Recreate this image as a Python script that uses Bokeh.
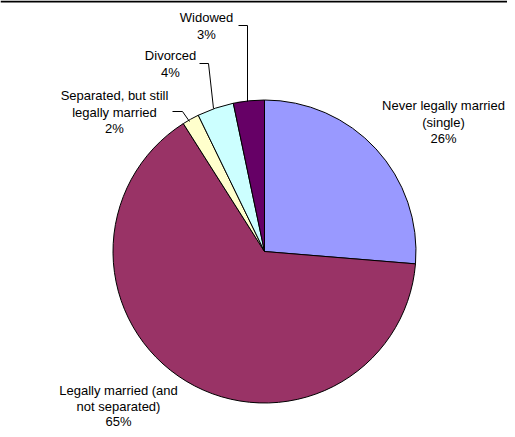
import math
from bokeh.plotting import figure
from bokeh.models import Range1d, ColumnDataSource
from bokeh.core.properties import value
from bokeh.embed import file_html
from bokeh.resources import INLINE

# ---- data (clockwise from 12 o'clock) ----
categories = ["Never legally married (single)", "Legally married (and not separated)",
              "Separated, but still legally married", "Divorced", "Widowed"]
shares = [26.3, 64.7, 1.8, 3.9, 3.3]
pct_labels = ["26%", "65%", "2%", "4%", "3%"]
label_lines = [["Never legally married", "(single)"],
               ["Legally married (and", "not separated)"],
               ["Separated, but still", "legally married"],
               ["Divorced"],
               ["Widowed"]]
colors = ["#9999FF", "#993366", "#FFFFCC", "#CCFFFF", "#660066"]

# ---- layout (picture pixel coordinates) ----
W, H = 507, 429
def Y(py):
    return H - py

cx, cy, r = 264, 251, 151.5
label_anchor = [(443, 105), (118, 390), (114, 95), (170, 55), (206, 17)]
line_step = [16.5, 15.5, 16.5, 16.5, 16.5]
leaders = [None, None,
           [(172, 111), (182, 111), (189, 121)],
           [(199, 63), (208, 63), (213, 108)],
           [(238, 25), (247, 25), (247, 101)]]

p = figure(width=W, height=H, output_backend="svg", toolbar_location=None,
           x_range=Range1d(0, W), y_range=Range1d(0, H), min_border=0)
p.axis.visible = False
p.grid.visible = False
p.outline_line_color = None
p.background_fill_color = "white"

total = sum(shares)
starts, ends = [], []
cum = 0.0
for s in shares:
    a0 = math.pi / 2 - 2 * math.pi * (cum + s) / total
    a1 = math.pi / 2 - 2 * math.pi * cum / total
    starts.append(a0)
    ends.append(a1)
    cum += s

src = ColumnDataSource(dict(x=[cx] * len(shares), y=[Y(cy)] * len(shares),
                            start=starts, end=ends, color=colors, cat=categories))
p.wedge(x="x", y="y", radius=r, start_angle="start", end_angle="end",
        direction="anticlock", fill_color="color", line_color="black",
        line_width=1, source=src)

# labels
tx, ty, tt = [], [], []
for (ax, ay), lines, pct, step in zip(label_anchor, label_lines, pct_labels, line_step):
    for i, t in enumerate(lines + [pct]):
        tx.append(ax)
        ty.append(Y(ay + i * step))
        tt.append(t)
p.text(x=tx, y=ty, text=tt, text_align="center", text_baseline="middle",
       text_font=value("Liberation Sans"), text_font_size="13px", text_color="black")

# leader lines
xs, ys = [], []
for ld in leaders:
    if ld:
        xs.append([pt[0] for pt in ld])
        ys.append([Y(pt[1]) for pt in ld])
p.multi_line(xs=xs, ys=ys, line_color="black", line_width=1)

# top border
p.line(x=[0, 513], y=[Y(1), Y(1)], line_color="black", line_width=2)

open("out.html", "w").write(file_html(p, INLINE))
